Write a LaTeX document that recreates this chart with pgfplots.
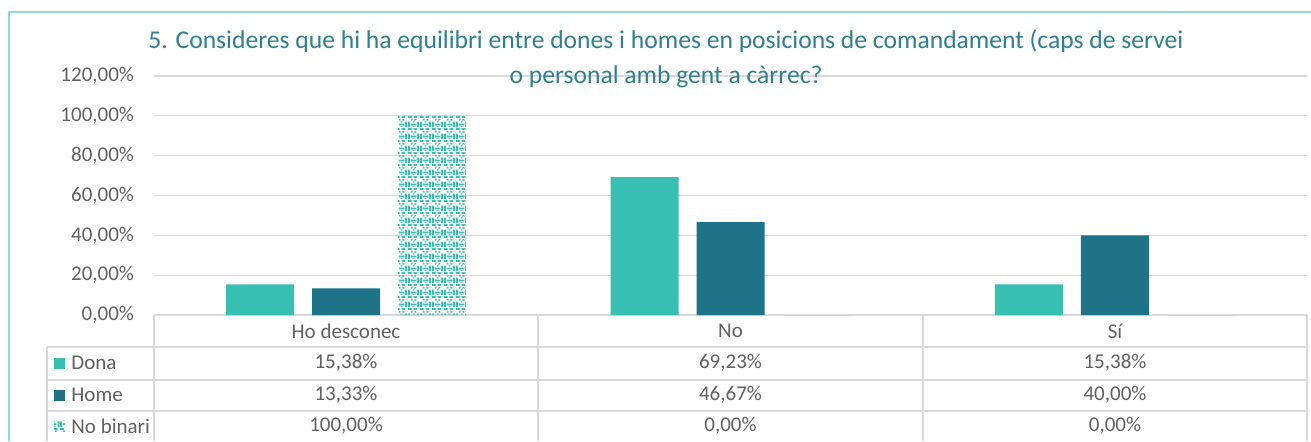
\documentclass[border=0pt]{standalone}
\usepackage{fontspec}
\setmainfont{Carlito}
\usepackage{pgfplots}
\pgfplotsset{compat=1.18}
\usetikzlibrary{patterns}

\definecolor{dona}{HTML}{37BFB2}
\definecolor{home}{HTML}{1F7389}
\definecolor{titlec}{HTML}{2F7F8E}
\definecolor{bordc}{HTML}{8ED9D3}
\definecolor{gridc}{HTML}{D9D9D9}
\definecolor{textc}{HTML}{606060}

% trellis-like fill for the "No binari" series
\pgfdeclarepatternformonly{trellis}{\pgfqpoint{0pt}{0pt}}{\pgfqpoint{6pt}{6pt}}{\pgfqpoint{6pt}{6pt}}{
  \pgfpathrectangle{\pgfqpoint{0pt}{0pt}}{\pgfqpoint{2pt}{1pt}}
  \pgfpathrectangle{\pgfqpoint{3pt}{0pt}}{\pgfqpoint{2pt}{1pt}}
  \pgfpathrectangle{\pgfqpoint{0pt}{1.5pt}}{\pgfqpoint{1pt}{3pt}}
  \pgfpathrectangle{\pgfqpoint{1.5pt}{2.5pt}}{\pgfqpoint{3pt}{1pt}}
  \pgfpathrectangle{\pgfqpoint{5pt}{1.5pt}}{\pgfqpoint{1pt}{3pt}}
  \pgfpathrectangle{\pgfqpoint{1.5pt}{5pt}}{\pgfqpoint{1pt}{1pt}}
  \pgfpathrectangle{\pgfqpoint{3.5pt}{5pt}}{\pgfqpoint{1pt}{1pt}}
  \pgfpathrectangle{\pgfqpoint{2.5pt}{1.5pt}}{\pgfqpoint{1pt}{0.6pt}}
  \pgfpathrectangle{\pgfqpoint{2.5pt}{4pt}}{\pgfqpoint{1pt}{0.6pt}}
  \pgfusepath{fill}
}

\begin{document}
\begin{tikzpicture}[font=\fontsize{10.5}{12}\selectfont]
\begin{axis}[
    at={(77pt,63pt)}, anchor=south west,
    scale only axis, width=576.5pt, height=119.5pt,
    xmin=-0.5, xmax=2.5, xtick=\empty,
    ymin=0, ymax=120, ytick={0,20,...,120},
    ybar=9pt, bar width=34pt,
    axis line style={draw=none},
    major tick length=0pt,
    ymajorgrids,
    grid style={draw=gridc, line width=0.6pt},
    yticklabel={\pgfmathprintnumber[fixed,fixed zerofill,precision=2,use comma,assume math mode=true]{\tick}\%},
    yticklabel style={text=textc, xshift=-6.5pt},
    clip=false,
]
\addplot[fill=dona, draw=none] coordinates {(0,15.38) (1,69.23) (2,15.38)};
\addplot[fill=home, draw=none] coordinates {(0,13.33) (1,46.67) (2,40.00)};
\addplot[pattern=trellis, pattern color=dona, draw=none] coordinates {(0,100) (1,0) (2,0)};
\end{axis}

% outer chart border (top and left visible)
\draw[bordc, line width=0.75pt] (4.5pt,0pt) -- (4.5pt,214.5pt) -- (655.5pt,214.5pt);

% title
\node[anchor=base, text=titlec, font=\fontsize{12.8}{16}\selectfont] at (333pt,196.5pt)
  {5. Consideres que hi ha equilibri entre dones i homes en posicions de comandament (caps de servei};
\node[anchor=base, text=titlec, font=\fontsize{12.8}{16}\selectfont] at (333pt,179pt)
  {o personal amb gent a càrrec?};

% data table
\begin{scope}[draw=gridc, line width=0.6pt]
  \draw (23.5pt,47pt) -- (653.5pt,47pt);
  \draw (23.5pt,30.5pt) -- (653.5pt,30.5pt);
  \draw (23.5pt,15pt) -- (653.5pt,15pt);
  \draw (23.5pt,47pt) -- (23.5pt,0pt);
  \draw (77pt,63pt) -- (77pt,0pt);
  \draw (269pt,63pt) -- (269pt,0pt);
  \draw (461.5pt,63pt) -- (461.5pt,0pt);
  \draw (653.5pt,63pt) -- (653.5pt,0pt);
\end{scope}

\begin{scope}[every node/.style={text=textc, inner sep=0pt}]
  \node at (173pt,55pt) {Ho desconec};
  \node at (365.25pt,55pt) {No};
  \node at (557.5pt,55pt) {Sí};

  \fill[dona] (27pt,36.25pt) rectangle (32.5pt,41.75pt);
  \fill[home] (27pt,20.25pt) rectangle (32.5pt,25.75pt);
  \fill[pattern=trellis, pattern color=dona] (27pt,4.75pt) rectangle (32.5pt,10.25pt);
  \node[anchor=west] at (35.5pt,39pt) {Dona};
  \node[anchor=west] at (35.5pt,23pt) {Home};
  \node[anchor=west] at (35.5pt,7.5pt) {No binari};

  \node at (173pt,39pt) {15,38\%};
  \node at (365.25pt,39pt) {69,23\%};
  \node at (557.5pt,39pt) {15,38\%};
  \node at (173pt,23pt) {13,33\%};
  \node at (365.25pt,23pt) {46,67\%};
  \node at (557.5pt,23pt) {40,00\%};
  \node at (173pt,7.5pt) {100,00\%};
  \node at (365.25pt,7.5pt) {0,00\%};
  \node at (557.5pt,7.5pt) {0,00\%};
\end{scope}

\pgfresetboundingbox
\path[use as bounding box] (0pt,0pt) rectangle (655.5pt,220.5pt);
\end{tikzpicture}
\end{document}
